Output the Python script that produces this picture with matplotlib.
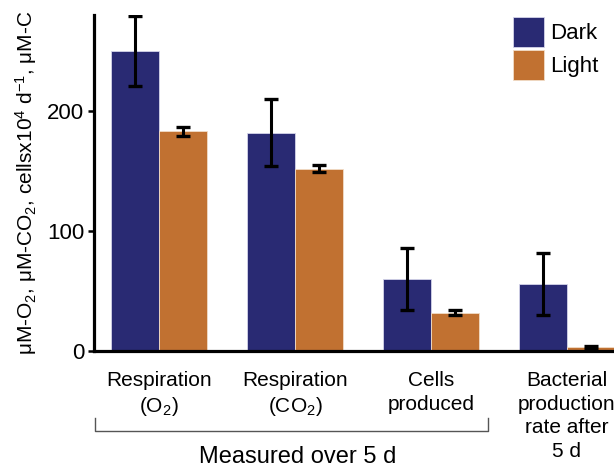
import matplotlib
matplotlib.use('Agg')
import matplotlib.pyplot as plt
import matplotlib.transforms as mtransforms
import numpy as np

plt.rcParams['font.family'] = ['Liberation Sans', 'DejaVu Sans']
plt.rcParams['mathtext.fontset'] = 'custom'
plt.rcParams['mathtext.rm'] = 'Liberation Sans'
plt.rcParams['mathtext.it'] = 'Liberation Sans:italic'
plt.rcParams['mathtext.bf'] = 'Liberation Sans:bold'

# data
categories = ['Respiration\n(O$_2$)', 'Respiration\n(CO$_2$)', 'Cells\nproduced',
              'Bacterial\nproduction\nrate after\n5 d']
dark = [250, 182, 60, 56]
dark_err = [29, 28, 26, 26]
light = [183, 152, 32, 3]
light_err = [4, 3, 2, 1]

dark_col = '#292a73'
light_col = '#c17131'

fig = plt.figure(figsize=(6.14, 4.67), dpi=100)
ax = fig.add_axes([0.1531, 0.2484, 0.8469, 0.7195])

x = np.arange(len(categories))
w = 0.35
ekw = dict(elinewidth=2.2, capsize=4.7, capthick=2.4, ecolor='black')
ax.bar(x - w / 2, dark, w, yerr=dark_err, color=dark_col, edgecolor='#d4d4ea',
       linewidth=0.6, error_kw=ekw, label='Dark')
ax.bar(x + w / 2, light, w, yerr=light_err, color=light_col, edgecolor='#f2ddc8',
       linewidth=0.6, error_kw=ekw, label='Light')

ax.set_xlim(-0.478, 3.346)
ax.set_ylim(0, 280)
ax.set_yticks([0, 100, 200])
ax.set_xticks(x)
ax.set_xticklabels(categories, fontsize=15, linespacing=1.3)

for s in ['top', 'right']:
    ax.spines[s].set_visible(False)
ax.spines['left'].set_linewidth(2.3)
ax.spines['bottom'].set_linewidth(2.3)
ax.tick_params(axis='y', direction='out', length=4, width=1.8, labelsize=16, pad=3)
ax.tick_params(axis='x', length=0, pad=14.5)

ax.set_ylabel(r'μM-O$_2$, μM-CO$_2$, cellsx10$^4$ d$^{-1}$, μM-C', fontsize=15, labelpad=6)

ax.legend(loc='upper left', bbox_to_anchor=(513 / 614, 1 - 17 / 467),
          bbox_transform=fig.transFigure, frameon=False, fontsize=16,
          handlelength=1.4, handleheight=1.72, labelspacing=0.1,
          handletextpad=0.25, borderpad=0, borderaxespad=0)

# bracket under the first three groups
tr = mtransforms.blended_transform_factory(ax.transData, ax.transAxes)
bx0, bx1 = -0.47, 2.42
by0, by1 = -0.199, -0.238
ax.plot([bx0, bx0, bx1, bx1], [by0, by1, by1, by0], color='#555555', lw=1.0,
        transform=tr, clip_on=False)
ax.text(1.02, -0.315, 'Measured over 5 d', transform=tr, ha='center', va='center',
        fontsize=17)

fig.savefig('out.png', dpi=100)
